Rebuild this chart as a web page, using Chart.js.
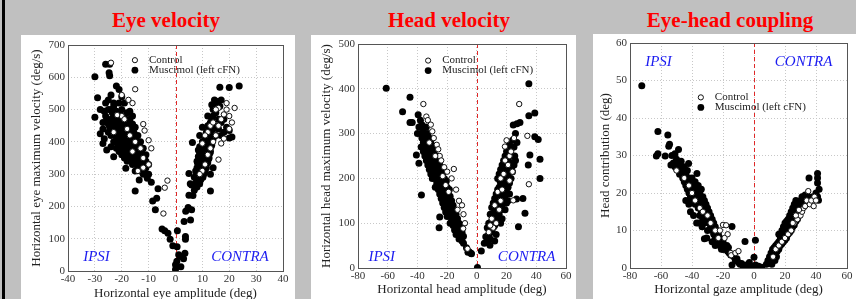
<!DOCTYPE html>
<html>
<head>
<meta charset="utf-8">
<script src="https://cdn.jsdelivr.net/npm/chart.js@4"></script>
<style>
  body { margin: 0; width: 856px; height: 299px; overflow: hidden; position: relative; background: #c0c0c0; }
  .edge { position: absolute; left: 2px; top: 0; width: 3px; height: 299px; background: #000; }
  .title { position: absolute; top: 8px; width: 240px; line-height: 24px; text-align: center;
           color: #f00; font: bold 21px "Liberation Serif", "Times New Roman", serif; }
  .panel { position: absolute; background: #fff; }
</style>
</head>
<body>
<div class="edge"></div>
<div class="title" style="left:46px">Eye velocity</div>
<div class="title" style="left:329px">Head velocity</div>
<div class="title" style="left:610px">Eye-head coupling</div>
<div class="panel" style="left:21px;top:35px;width:274px;height:275px"><canvas id="eye" width="274" height="275"></canvas></div>
<div class="panel" style="left:311px;top:35px;width:265px;height:275px"><canvas id="head" width="265" height="275"></canvas></div>
<div class="panel" style="left:593px;top:34px;width:263px;height:275px"><canvas id="gaze" width="263" height="275"></canvas></div>
<script>
// eye amplitude (deg) vs eye max velocity (deg/s)
const eyeCtrl = [
  [-24,645],[-15,563],[-20,545],[-17.5,530],[-16,520],[-12,455],[-11.5,435],[-10,405],[-9,380],
  [-12,320],[-3,280],[-4,258],[-4.5,178],[-20,480],[-21.7,483],[-19,470],[-18,440],[-17,420],
  [-15,400],[-13,380],[-12,350],[-10,330],[-16,370],[-23,430],[-14,310],
  [16,345],[14,400],[15,420],[16,450],[17,470],[18,485],[19,500],[20,480],[22,505],[21,460],
  [18,410],[20,440],[17,395],[12,430],[13,450],[14,460],[10,395],[11,420],[16,505],[19,520],
  [15,500],[13,380],[12,360],[11,330],[10,310],[9,300]
];
const eyeMus = [
  [-30,602],[-29,537],[-30,476],[-26,640],[-24.5,640],[-24.7,614],[-24.5,605],[-22,573],[-21,562],
  [-25.6,375],[-23,354],[-18.5,318],[-15,248],[-13.5,282],[-11,302],[-10.5,287],[-9,275],[-8.5,217],
  [-7,225],[-7.5,190],[-6.5,255],[-5,130],[-4,125],[-2.8,117],[-2,98],[-1,78],
  [-28,500],[-27,460],[-27,440],[-26,520],[-26,480],[-25,530],[-25,500],[-25,455],[-25,430],
  [-24,545],[-24,500],[-24,470],[-24,420],[-23,510],[-23,480],[-23,450],[-23,400],[-22,495],
  [-22,470],[-22,440],[-22,415],[-22,380],[-21,520],[-21,485],[-21,455],[-21,430],[-21,400],
  [-21,370],[-20,500],[-20,470],[-20,445],[-20,420],[-20,395],[-20,360],[-19,480],[-19,455],
  [-19,430],[-19,410],[-19,385],[-19,350],[-18,490],[-18,460],[-18,440],[-18,415],[-18,395],
  [-18,370],[-18,340],[-17,470],[-17,445],[-17,420],[-17,400],[-17,375],[-17,350],[-16,455],
  [-16,430],[-16,410],[-16,385],[-16,360],[-16,330],[-15,445],[-15,420],[-15,395],[-15,370],
  [-15,345],[-15,310],[-14,420],[-14,395],[-14,370],[-14,345],[-14,320],[-13,400],[-13,380],
  [-13,355],[-13,330],[-12,380],[-12,355],[-12,330],[-11,360],[-11,340],[-11,320],[-10,330],
  [-10,300],[-26.5,410],[-28,425],[-27,395],[-24,385],[-23,520],[-20,540],[-19,520],[-17,495],
  [-16,480],[-13,310],[-12,300],
  [-26.5,495],[-25.5,470],[-24.5,445],[-23.5,490],[-23.5,465],[-23.5,425],[-22.5,455],[-22.5,430],
  [-22.5,400],[-21.5,470],[-21.5,445],[-21.5,415],[-21.5,385],[-20.5,485],[-20.5,455],[-20.5,430],
  [-20.5,405],[-20.5,375],[-19.5,465],[-19.5,440],[-19.5,420],[-19.5,395],[-19.5,365],[-18.5,450],
  [-18.5,425],[-18.5,405],[-18.5,380],[-18.5,355],[-17.5,455],[-17.5,430],[-17.5,410],[-17.5,385],
  [-17.5,360],[-16.5,440],[-16.5,420],[-16.5,395],[-16.5,370],[-16.5,345],[-15.5,430],[-15.5,405],
  [-15.5,380],[-15.5,355],[-14.5,405],[-14.5,380],[-14.5,355],[-14.5,330],[-13.5,390],[-13.5,365],
  [-13.5,340],[-12.5,365],[-12.5,340],[-12.5,315],[-11.5,350],[-11.5,330],
  [0,19],[0,5],[0.5,30],[0.7,125],[0.6,75],[1.2,50],[2,45],[2,13],[3,38],[3.5,55],[3.7,98],
  [3.7,107],[3.2,153],[3.8,185],[4.7,197],[6,190],[5.6,158],[5,302],[6.3,398],[5,235],[5.5,270],
  [6.5,234],[6,266],[7,250],[7.8,282],[13,248],[16.5,569],[20,568],[23.7,573],[17,530],[16.5,510],
  [20,412],
  [7,290],[7.5,270],[7.5,310],[8,260],[8,295],[8,320],[8,340],[8.5,280],[8.5,305],[8.5,330],
  [8.5,355],[9,270],[9,295],[9,315],[9,340],[9,365],[9,385],[9.5,285],[9.5,305],[9.5,325],
  [9.5,350],[9.5,375],[10,295],[10,315],[10,335],[10,355],[10,380],[10,400],[10.5,300],[10.5,325],
  [10.5,345],[10.5,370],[10.5,395],[11,310],[11,335],[11,360],[11,385],[11,410],[11.5,320],
  [11.5,345],[11.5,375],[11.5,405],[11.5,430],[12,335],[12,360],[12,390],[12,420],[12,450],
  [12.5,350],[12.5,380],[12.5,410],[12.5,440],[13,300],[13,370],[13,400],[13,430],[13,460],
  [13.5,390],[13.5,420],[13.5,470],[14,320],[14,410],[14,440],[14,480],[14,500],[15,420],[15,450],
  [15,490],[15,515],[16,440],[16,470],[17,420],[17,460],[18,430],[18,470],[19,445],[20,435],
  [21,415],[10,445],[8.5,375],[9,420],[13.5,515],[14.5,530],[15.5,525],[12,480],
  [8.2,285],[8.8,310],[9.2,330],[9.8,345],[10.2,365],[10.8,380],[11.2,395],[11.8,415],[12.2,435],
  [12.8,455],[9.2,280],[10.2,290],[10.8,310],[11.2,325],[12.2,345],[12.8,365],[13.2,385],
  [13.8,405],[7.8,305],[8.2,335]
];

// head amplitude (deg) vs head max velocity (deg/s)
const headCtrl = [
  [-36,366],[-34,338],[-33,330],[-31,320],[-30,305],[-29,290],[-27,275],[-26,265],[-25,250],
  [-24,240],[-22,225],[-20,215],[-15.5,221],[-17,200],[-14,175],[-12,150],[-10,140],[-9,120],
  [-9.2,88],[-8,100],[-6.3,43],[-28,250],[-32,280],[-23,205],[-19,170],[-21,185],[-13,130],
  [28.5,366],[34,295],[35,187],[24.5,151],[18.9,271],[22,250],[19,240],[16,200],[14,170],[12,140],
  [10,110],[8,80],[20,285],[24,215],[22,195],[13,100],[11,90],[15,130],[17,175],[21,230],[23,260],
  [25,290],[18,210],[9,95],[16,150]
];
const headMus = [
  [-61,401],[-50,349],[-45,381],[-45,325],[-43.5,325],[-39.5,342],[-40.7,252],[-39,234],[-37.3,163],
  [-25,114],[-25.4,90],[-9,71],[-5.2,36],[-3.6,32],[0.4,1],[3,38],[8.8,51],[26.7,154],[31,155],
  [28,92],[32.4,122],[35,411],[35,340],[39,346],[35.7,252],[34.6,230],[39,293],[41.3,287],
  [42.5,243],[42.5,200],[24.5,319],[29,325],[27,322],[26,300],
  [-38,330],[-38,300],[-37,320],[-37,290],[-36,310],[-36,280],[-36,260],[-35,300],[-35,275],
  [-35,250],[-34,315],[-34,290],[-34,265],[-34,240],[-33,300],[-33,280],[-33,255],[-33,230],
  [-32,290],[-32,270],[-32,245],[-32,220],[-31,280],[-31,260],[-31,235],[-31,210],[-30,270],
  [-30,250],[-30,225],[-30,200],[-29,260],[-29,240],[-29,215],[-28,265],[-28,245],[-28,225],
  [-28,200],[-28,180],[-27,250],[-27,230],[-27,210],[-27,190],[-26,240],[-26,220],[-26,200],
  [-26,175],[-25,230],[-25,210],[-25,190],[-25,165],[-24,220],[-24,200],[-24,180],[-24,155],
  [-23,210],[-23,190],[-23,170],[-23,145],[-22,200],[-22,180],[-22,160],[-22,135],[-21,190],
  [-21,170],[-21,150],[-21,125],[-20,180],[-20,160],[-20,140],[-20,115],[-19,170],[-19,150],
  [-19,130],[-18,160],[-18,140],[-18,120],[-18,100],[-17,150],[-17,130],[-17,110],[-16,140],
  [-16,120],[-16,95],[-15,130],[-15,110],[-15,85],[-14,120],[-14,100],[-14,75],[-13,110],[-13,90],
  [-12,100],[-12,80],[-12,65],[-11,90],[-11,70],[-10,80],[-10,60],[-9,55],[-7,45],[-6,35],[-4,33],
  [-40,300],[-39,315],[-37.5,270],[-36.5,295],[-35.5,285],[-33.5,270],[-32.5,258],[-31.5,248],
  [-29.5,230],[-28.5,212],[-26.5,230],[-25.5,200],[-24.5,188],[-22.5,170],[-21.5,160],[-19.5,140],
  [-17.5,120],[-16.5,105],[-13.5,95],[-12.5,88],[-11.5,78],[-15.5,98],[-18.5,175],[-20.5,195],
  [5,55],[6,70],[7,60],[7,90],[8,75],[8,100],[9,65],[9,90],[9,120],[10,80],[10,105],[10,135],
  [11,90],[11,115],[11,145],[12,95],[12,125],[12,155],[13,105],[13,135],[13,165],[14,115],[14,145],
  [14,175],[14,200],[15,120],[15,150],[15,180],[15,210],[16,130],[16,160],[16,190],[16,220],
  [17,140],[17,170],[17,200],[17,230],[18,150],[18,180],[18,210],[18,240],[19,160],[19,190],
  [19,220],[19,250],[20,170],[20,200],[20,230],[20,260],[21,180],[21,210],[21,240],[22,190],
  [22,220],[22,250],[22,275],[23,200],[23,235],[23,265],[24,215],[24,250],[24,285],[25,230],
  [25,270],[26,240],[12,60],[13,75],[16,100],[17,110],[19,130],[20,145],[21,150],[22,165],
  [14.5,160],[15.5,195],[16.5,175],[17.5,215],[18.5,195],[19.5,235],[20.5,215],[21.5,255],
  [13.5,120],[12.5,110],[18.5,165],[23.5,225],[25.5,250],[27,280],[10.5,95],[15.5,140]
];

// gaze amplitude (deg) vs head contribution (deg)
const gazeCtrl = [
  [-50,26],[-45,24],[-42,22],[-40,20],[-38,18],[-35,16],[-33,15],[-30,14],[-28,12],[-25,10],
  [-22,10],[-20,11.5],[-18,11.4],[-17,9],[-15,4],[-14.7,3.4],[-12,4],[-10,4.5],[-19,8],[-23,8],
  [12.3,3],[14,5],[16,6],[18,7],[20,8],[22,9],[24,10],[26,12],[28,13],[30,14],[31,15],[32,16],
  [33,16.5],[34,18],[35,20.5],[36,17],[37,18],[38.5,16.5],[39,19],[40,18],[25,12],[27,14],[29,15.5]
];
const gazeMus = [
  [-72.4,48.6],[-62,36.4],[-63,29.9],[-62,30.5],[-55.6,35.5],[-55,32.5],[-54.5,33],[-48.7,31.6],
  [-57.3,29.9],[-53.6,27.5],[-42.2,27.9],[-36.8,25.2],[-32,7.8],[-14.2,11.1],[-14.2,0.8],[-5.8,7.1],
  [0.9,7.4],[0,2.9],[35.5,24],[41,25.2],[41,24],[41,22.7],[41.6,18.1],
  [-52,28],[-51,27],[-50,29],[-50,26.5],[-49,28],[-48,27],[-48,25],[-47,28.5],[-46,26],[-46,24],
  [-45,27],[-45,23],[-44,25],[-44,22],[-43,26],[-43,21],[-42,24],[-42,20],[-41,23],[-41,19],
  [-40,24],[-40,21],[-40,18],[-39,22],[-39,19],[-38,23],[-38,20],[-38,17],[-37,21],[-37,18],
  [-36,22],[-36,19],[-36,16],[-35,20],[-35,17],[-35,14],[-34,21],[-34,18],[-34,15],[-33,19],
  [-33,16],[-33,13],[-32,18],[-32,15],[-32,12],[-31,17],[-31,14],[-30,16],[-30,13],[-30,10],
  [-29,15],[-29,12],[-28,14],[-28,11],[-27,13],[-27,10],[-26,12],[-26,9],[-25,11],[-25,8],
  [-24,10],[-24,7.5],[-23,9],[-23,6.5],[-22,8],[-22,6],[-21,7.5],[-21,5],[-20,7],[-20,5],[-19,6],
  [-18,5],[-17,4.5],[-16,4],[-15,3.5],[-12,2],[-10,1.5],[-9,1],[-8,1.2],[-7,0.5],[-5,0.8],[-4,0.3],
  [-3,1.5],[-2,0.5],[-1,0.3],[1,0.8],[2,0.3],[3,0.5],[5,0.2],
  [-44,18],[-42,17],[-41,15],[-39,14],[-37,12],[-27,7],[-25,6],[-53,30],[-51,30.5],
  [-47.5,26],[-45.5,25],[-43.5,23.5],[-41.5,21.5],[-39.5,20.5],[-37.5,19.5],[-35.5,18.5],
  [-33.5,17.5],[-31.5,15.5],[-29.5,13.5],[-27.5,12],[-25.5,9.5],[-23.5,8],[-21.5,6.5],[-19.5,5],
  [-17.5,6],[-16.5,5.5],[-13,3],[-11,2.5],[-35.5,12],[-33.5,11],[-30.5,8],
  [8,1],[9,2],[10,1.5],[10,3],[11,2],[11,4],[12,3],[12,5],[13,3.5],[13,5.5],[14,4],[14,6],
  [15,4.5],[15,6.5],[16,5],[16,7],[16,9],[17,6],[17,8],[18,6.5],[18,8.5],[18,10],[19,7],[19,9],
  [19,11],[20,7.5],[20,9.5],[20,12],[21,8],[21,10],[21,12.5],[22,9],[22,11],[22,13],[23,9.5],
  [23,11.5],[23,14],[24,10],[24,12],[24,15],[25,11],[25,13],[25,16],[26,11.5],[26,14],[26,17],
  [27,12.5],[27,15],[27,18],[28,13],[28,16],[29,14],[29,17],[30,15],[30,18],[31,16],[31,19],
  [32,16.5],[33,17],[33,19.5],[34,18],[35,19],[36,18.5],[38,19],[40,20],[41,19],[42,21],
  [14.5,3],[15.5,5.5],[16.5,6],[17.5,7.5],[18.5,8],[19.5,10],[20.5,11],[21.5,9],[22.5,12],
  [23.5,10.5],[24.5,13.5],[25.5,12],[26.5,15.5],[27.5,14],[28.5,15],[29.5,16],[13.5,2],[11.5,1]
];

const serif = '"Liberation Serif", "Times New Roman", serif';

// zero line, frame, IPSI/CONTRA and the little legend
const decor = {
  id: 'decor',
  beforeDatasetsDraw(chart) {
    const {ctx, chartArea: a, scales: {x}} = chart;
    const zx = Math.round(x.getPixelForValue(0)) + 0.5;
    ctx.save();
    ctx.strokeStyle = '#e02828';
    ctx.lineWidth = 1;
    ctx.setLineDash([4, 3]);
    ctx.beginPath();
    ctx.moveTo(zx, a.top);
    ctx.lineTo(zx, a.bottom);
    ctx.stroke();
    ctx.restore();
  },
  afterDraw(chart, args, opts) {
    const {ctx, chartArea: a, scales: {x, y}} = chart;
    ctx.save();
    ctx.strokeStyle = '#555';
    ctx.lineWidth = 1;
    ctx.strokeRect(a.left + 0.5, a.top + 0.5, a.right - a.left, a.bottom - a.top);

    ctx.fillStyle = '#1c1cf0';
    ctx.font = 'italic 15px ' + serif;
    ctx.textAlign = 'center';
    ctx.textBaseline = 'middle';
    ctx.fillText('IPSI', x.getPixelForValue(opts.ipsi[0]), y.getPixelForValue(opts.ipsi[1]));
    ctx.fillText('CONTRA', x.getPixelForValue(opts.contra[0]), y.getPixelForValue(opts.contra[1]));

    const lx = x.getPixelForValue(opts.legend[0]);
    const ly = y.getPixelForValue(opts.legend[1]);
    ctx.font = '11px ' + serif;
    ctx.textAlign = 'left';
    ctx.fillStyle = '#222';
    ctx.fillText('Control', lx + 14, ly);
    ctx.fillText('Muscimol (left cFN)', lx + 14, ly + 10);
    ctx.beginPath();
    ctx.arc(lx, ly, 2.6, 0, Math.PI * 2);
    ctx.fillStyle = '#fff';
    ctx.fill();
    ctx.strokeStyle = '#111';
    ctx.stroke();
    ctx.beginPath();
    ctx.arc(lx, ly + 10, 3.4, 0, Math.PI * 2);
    ctx.fillStyle = '#000';
    ctx.fill();
    ctx.restore();
  }
};

function toXY(pairs) {
  return pairs.map(p => ({x: p[0], y: p[1]}));
}

function generateScatter(canvas_id, ctrl, mus, cfg) {
  new Chart(canvas_id, {
    type: 'scatter',
    data: {
      datasets: [{
        label: 'Control',
        data: toXY(ctrl),
        pointRadius: 2.7,
        pointBackgroundColor: '#fff',
        pointBorderColor: '#111',
        pointBorderWidth: 1,
        order: 0
      }, {
        label: 'Muscimol (left cFN)',
        data: toXY(mus),
        pointRadius: 3.5,
        pointBackgroundColor: '#000',
        pointBorderWidth: 0,
        order: 1
      }]
    },
    plugins: [decor],
    options: {
      responsive: false,
      animation: false,
      events: [],
      layout: { padding: { left: 0, top: cfg.top, right: cfg.right, bottom: 0 } },
      plugins: {
        legend: { display: false },
        tooltip: { enabled: false },
        decor: { ipsi: cfg.ipsi, contra: cfg.contra, legend: cfg.legend }
      },
      scales: {
        x: {
          type: 'linear',
          min: cfg.xMin,
          max: cfg.xMax,
          ticks: { stepSize: cfg.xStep, color: '#333', padding: 2, font: { family: serif, size: 11 } },
          grid: { color: '#c8c8c8', drawTicks: false },
          border: { display: false, dash: [1, 2] },
          title: { display: true, text: cfg.xTitle, color: '#222', font: { family: serif, size: 13 },
                   padding: { top: 0, bottom: cfg.xTitlePad } },
          afterFit: s => { s.height = cfg.xH; s.paddingLeft = 0; s.paddingRight = 0; }
        },
        y: {
          type: 'linear',
          min: 0,
          max: cfg.yMax,
          ticks: { stepSize: cfg.yStep, color: '#333', padding: 3, font: { family: serif, size: 11 } },
          grid: { color: '#c8c8c8', drawTicks: false },
          border: { display: false, dash: [1, 2] },
          title: { display: true, text: cfg.yTitle, color: '#222', font: { family: serif, size: 13 },
                   padding: { top: cfg.yTitlePad, bottom: 0 } },
          afterFit: s => { s.width = cfg.yW; s.paddingTop = 0; s.paddingBottom = 0; }
        }
      }
    }
  });
}

generateScatter('eye', eyeCtrl, eyeMus, {
  xMin: -40, xMax: 40, xStep: 10, yMax: 700, yStep: 100,
  xTitle: 'Horizontal eye amplitude (deg)', yTitle: 'Horizontal eye maximum velocity (deg/s)',
  top: 10, right: 12, yW: 47, xH: 39, xTitlePad: 9, yTitlePad: 8,
  ipsi: [-29.4, 44], contra: [24, 44], legend: [-15.1, 653]
});
generateScatter('head', headCtrl, headMus, {
  xMin: -80, xMax: 60, xStep: 20, yMax: 500, yStep: 100,
  xTitle: 'Horizontal head amplitude (deg)', yTitle: 'Horizontal head maximum velocity (deg/s)',
  top: 9, right: 10, yW: 47, xH: 42, xTitlePad: 13, yTitlePad: 8,
  ipsi: [-64, 25], contra: [33.5, 25], legend: [-32.8, 463]
});
generateScatter('gaze', gazeCtrl, gazeMus, {
  xMin: -80, xMax: 60, xStep: 20, yMax: 60, yStep: 10,
  xTitle: 'Horizontal gaze amplitude (deg)', yTitle: 'Head contribution (deg)',
  top: 9, right: 9, yW: 37, xH: 41, xTitlePad: 12, yTitlePad: 5,
  ipsi: [-61.6, 54.8], contra: [32, 54.8], legend: [-34.3, 45.5]
});
</script>
</body>
</html>
